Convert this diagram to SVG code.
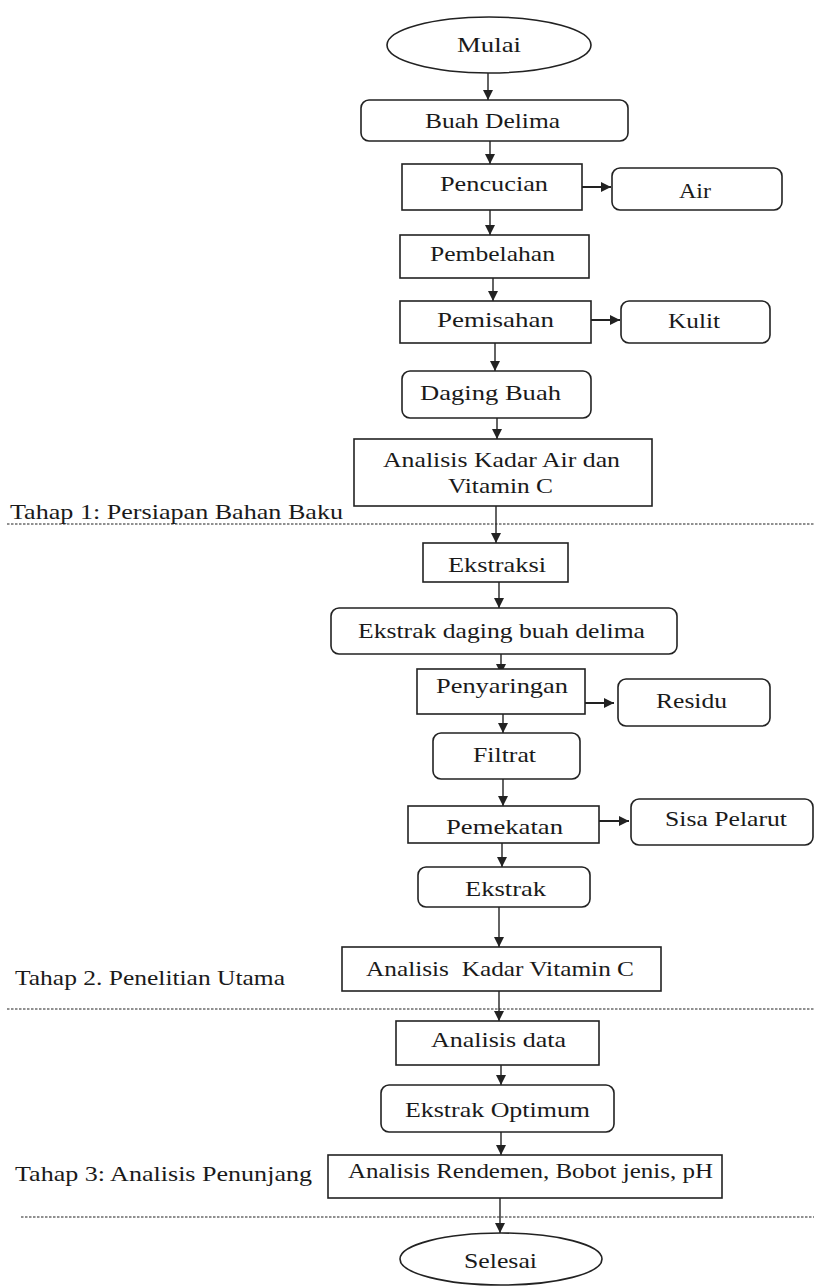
<svg xmlns="http://www.w3.org/2000/svg" width="814" height="1286" viewBox="0 0 814 1286">
<style>
.bx{fill:#fff;stroke:#222;stroke-width:1.6}
.cn{stroke:#222;stroke-width:1.4;fill:none}
.cnh{stroke:#222;stroke-width:2;fill:none}
.dl{stroke:#222;stroke-width:1.2;stroke-dasharray:2.5 1.5;fill:none}
text{font-family:"Liberation Serif","Times New Roman",serif;font-size:21px;fill:#1a1a1a}
</style>
<defs>
<marker id="ah" markerUnits="userSpaceOnUse" markerWidth="10" markerHeight="10" refX="10" refY="5" orient="auto">
<path d="M0,0 L10,5 L0,10 z" fill="#222"/>
</marker>
</defs>
<rect width="814" height="1286" fill="#fff"/>

<g id="dividers">
<line class="dl" x1="7" y1="524" x2="814" y2="524"/>
<line class="dl" x1="7" y1="1009" x2="814" y2="1009"/>
<line class="dl" x1="21" y1="1217" x2="814" y2="1217"/>
</g>

<g id="stage-labels">
<text x="10" y="519" textLength="333" lengthAdjust="spacingAndGlyphs">Tahap 1: Persiapan Bahan Baku</text>
<text x="15" y="985" textLength="270" lengthAdjust="spacingAndGlyphs">Tahap 2. Penelitian Utama</text>
<text x="15" y="1181" textLength="297" lengthAdjust="spacingAndGlyphs">Tahap 3: Analisis Penunjang</text>
</g>

<g id="connectors">
<line class="cn" x1="488" y1="73" x2="488" y2="100" marker-end="url(#ah)"/>
<line class="cn" x1="490" y1="141" x2="490" y2="164" marker-end="url(#ah)"/>
<line class="cn" x1="490" y1="210" x2="490" y2="235" marker-end="url(#ah)"/>
<line class="cn" x1="493" y1="278" x2="493" y2="301" marker-end="url(#ah)"/>
<line class="cn" x1="495" y1="343" x2="495" y2="371" marker-end="url(#ah)"/>
<line class="cn" x1="497" y1="418" x2="497" y2="439" marker-end="url(#ah)"/>
<line class="cn" x1="496" y1="501" x2="496" y2="543" marker-end="url(#ah)"/>
<line class="cn" x1="499" y1="582" x2="499" y2="608" marker-end="url(#ah)"/>
<line class="cn" x1="501" y1="654" x2="501" y2="674" marker-end="url(#ah)"/>
<line class="cn" x1="503" y1="711" x2="503" y2="733" marker-end="url(#ah)"/>
<line class="cn" x1="503" y1="779" x2="503" y2="806" marker-end="url(#ah)"/>
<line class="cn" x1="502" y1="838" x2="502" y2="867" marker-end="url(#ah)"/>
<line class="cn" x1="499" y1="907" x2="499" y2="947" marker-end="url(#ah)"/>
<line class="cn" x1="499" y1="988" x2="499" y2="1021" marker-end="url(#ah)"/>
<line class="cn" x1="501" y1="1065" x2="501" y2="1085" marker-end="url(#ah)"/>
<line class="cn" x1="501" y1="1132" x2="501" y2="1155" marker-end="url(#ah)"/>
<line class="cn" x1="500" y1="1198" x2="500" y2="1233" marker-end="url(#ah)"/>
<line class="cnh" x1="582" y1="187" x2="611" y2="187" marker-end="url(#ah)"/>
<line class="cnh" x1="591" y1="320" x2="620" y2="320" marker-end="url(#ah)"/>
<line class="cnh" x1="585" y1="703" x2="614" y2="703" marker-end="url(#ah)"/>
<line class="cnh" x1="599" y1="821" x2="629" y2="821" marker-end="url(#ah)"/>
</g>

<g id="mulai"><ellipse class="bx" cx="489" cy="45" rx="102" ry="28"/><text x="457" y="52" textLength="64" lengthAdjust="spacingAndGlyphs">Mulai</text></g>
<g id="buah-delima"><rect class="bx" x="361" y="100" width="267" height="41" rx="8"/><text x="425" y="128" textLength="135" lengthAdjust="spacingAndGlyphs">Buah Delima</text></g>
<g id="pencucian"><rect class="bx" x="402" y="164" width="180" height="46"/><text x="440" y="191" textLength="108" lengthAdjust="spacingAndGlyphs">Pencucian</text></g>
<g id="air"><rect class="bx" x="612" y="168" width="170" height="42" rx="8"/><text x="679" y="198" textLength="32" lengthAdjust="spacingAndGlyphs">Air</text></g>
<g id="pembelahan"><rect class="bx" x="400" y="235" width="189" height="43"/><text x="430" y="261" textLength="125" lengthAdjust="spacingAndGlyphs">Pembelahan</text></g>
<g id="pemisahan"><rect class="bx" x="400" y="301" width="191" height="42"/><text x="437" y="327" textLength="117" lengthAdjust="spacingAndGlyphs">Pemisahan</text></g>
<g id="kulit"><rect class="bx" x="621" y="301" width="149" height="42" rx="8"/><text x="668" y="328" textLength="52" lengthAdjust="spacingAndGlyphs">Kulit</text></g>
<g id="daging-buah"><rect class="bx" x="402" y="371" width="189" height="47" rx="8"/><text x="420" y="400" textLength="141" lengthAdjust="spacingAndGlyphs">Daging Buah</text></g>
<g id="analisis-kadar-air"><rect class="bx" x="354" y="439" width="298" height="67"/><text x="383" y="467" textLength="237" lengthAdjust="spacingAndGlyphs">Analisis Kadar Air dan</text><text x="448" y="493" textLength="105" lengthAdjust="spacingAndGlyphs">Vitamin C</text></g>
<g id="ekstraksi"><rect class="bx" x="423" y="543" width="145" height="39"/><text x="448" y="572" textLength="98" lengthAdjust="spacingAndGlyphs">Ekstraksi</text></g>
<g id="ekstrak-daging"><rect class="bx" x="331" y="608" width="346" height="46" rx="8"/><text x="358" y="638" textLength="287" lengthAdjust="spacingAndGlyphs">Ekstrak daging buah delima</text></g>
<g id="penyaringan"><rect class="bx" x="417" y="669" width="168" height="45"/><text x="436" y="693" textLength="132" lengthAdjust="spacingAndGlyphs">Penyaringan</text></g>
<g id="residu"><rect class="bx" x="618" y="679" width="152" height="47" rx="8"/><text x="656" y="708" textLength="71" lengthAdjust="spacingAndGlyphs">Residu</text></g>
<g id="filtrat"><rect class="bx" x="433" y="733" width="147" height="46" rx="8"/><text x="473" y="762" textLength="63" lengthAdjust="spacingAndGlyphs">Filtrat</text></g>
<g id="pemekatan"><rect class="bx" x="408" y="806" width="191" height="37"/><text x="446" y="834" textLength="117" lengthAdjust="spacingAndGlyphs">Pemekatan</text></g>
<g id="sisa-pelarut"><rect class="bx" x="631" y="799" width="182" height="46" rx="8"/><text x="665" y="826" textLength="122" lengthAdjust="spacingAndGlyphs">Sisa Pelarut</text></g>
<g id="ekstrak"><rect class="bx" x="418" y="867" width="172" height="40" rx="8"/><text x="465" y="896" textLength="81" lengthAdjust="spacingAndGlyphs">Ekstrak</text></g>
<g id="analisis-vitc"><rect class="bx" x="342" y="947" width="319" height="44"/><text x="366" y="976" textLength="268" lengthAdjust="spacingAndGlyphs" xml:space="preserve">Analisis  Kadar Vitamin C</text></g>
<g id="analisis-data"><rect class="bx" x="396" y="1021" width="203" height="44"/><text x="431" y="1047" textLength="135" lengthAdjust="spacingAndGlyphs">Analisis data</text></g>
<g id="ekstrak-optimum"><rect class="bx" x="381" y="1085" width="233" height="47" rx="8"/><text x="405" y="1117" textLength="185" lengthAdjust="spacingAndGlyphs">Ekstrak Optimum</text></g>
<g id="analisis-rendemen"><rect class="bx" x="328" y="1155" width="394" height="43"/><text x="348" y="1178" textLength="365" lengthAdjust="spacingAndGlyphs">Analisis Rendemen, Bobot jenis, pH</text></g>
<g id="selesai"><ellipse class="bx" cx="501" cy="1259" rx="101" ry="26"/><text x="464" y="1268" textLength="73" lengthAdjust="spacingAndGlyphs">Selesai</text></g>
</svg>
